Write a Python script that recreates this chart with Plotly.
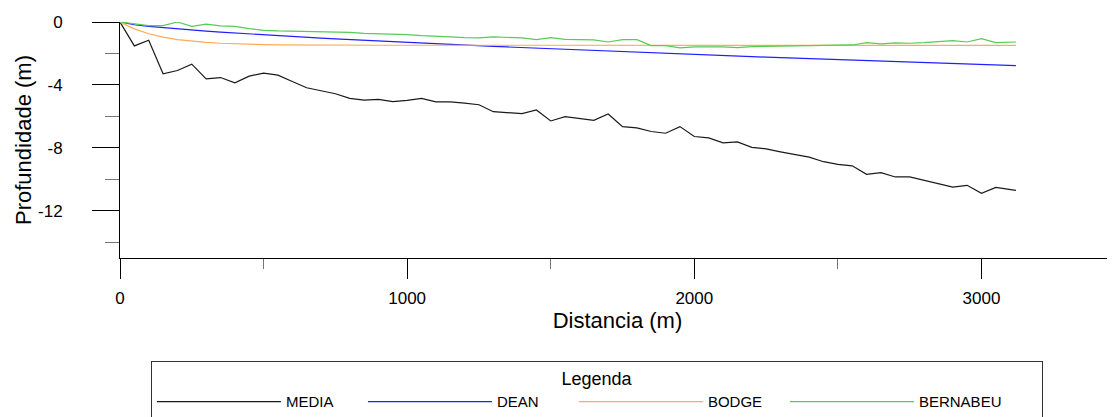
import plotly.graph_objects as go

distancia = [0, 50, 100, 150, 200, 250, 300, 350, 400, 450, 500, 550, 600, 650, 700, 750,
             800, 850, 900, 950, 1000, 1050, 1100, 1150, 1200, 1250, 1300, 1350, 1400, 1450,
             1500, 1550, 1600, 1650, 1700, 1750, 1800, 1850, 1900, 1950, 2000, 2050, 2100,
             2150, 2200, 2250, 2300, 2350, 2400, 2450, 2500, 2550, 2600, 2650, 2700, 2750,
             2800, 2850, 2900, 2950, 3000, 3050, 3120]

media = [0.0, -1.52, -1.16, -3.29, -3.08, -2.68, -3.61, -3.53, -3.86, -3.44, -3.25, -3.38,
         -3.78, -4.18, -4.37, -4.56, -4.85, -4.96, -4.92, -5.06, -4.98, -4.85, -5.08, -5.08,
         -5.15, -5.26, -5.70, -5.76, -5.82, -5.59, -6.29, -6.01, -6.14, -6.25, -5.85, -6.65,
         -6.73, -6.96, -7.07, -6.65, -7.28, -7.37, -7.68, -7.62, -7.97, -8.06, -8.25, -8.42,
         -8.59, -8.88, -9.05, -9.14, -9.68, -9.58, -9.85, -9.85, -10.06, -10.28, -10.49,
         -10.38, -10.89, -10.51, -10.70]

dean = [0.0, -0.176, -0.280, -0.367, -0.445, -0.516, -0.583, -0.646, -0.706, -0.763, -0.819,
        -0.873, -0.925, -0.976, -1.025, -1.073, -1.120, -1.166, -1.212, -1.256, -1.300,
        -1.343, -1.385, -1.427, -1.468, -1.508, -1.548, -1.587, -1.626, -1.665, -1.703,
        -1.741, -1.778, -1.815, -1.851, -1.888, -1.923, -1.959, -1.994, -2.029, -2.063,
        -2.098, -2.132, -2.165, -2.199, -2.232, -2.265, -2.297, -2.329, -2.361, -2.394,
        -2.425, -2.457, -2.488, -2.519, -2.550, -2.581, -2.611, -2.641, -2.671, -2.704,
        -2.734, -2.776]

bodge = [0.0, -0.437, -0.745, -0.962, -1.114, -1.223, -1.299, -1.352, -1.390, -1.417, -1.435,
         -1.448, -1.458, -1.464, -1.469, -1.472, -1.475, -1.476, -1.477, -1.478, -1.479,
         -1.48, -1.48, -1.48, -1.48, -1.48, -1.48, -1.48, -1.48, -1.48, -1.48, -1.48, -1.48,
         -1.48, -1.48, -1.48, -1.48, -1.48, -1.48, -1.48, -1.48, -1.48, -1.48, -1.48, -1.48,
         -1.48, -1.48, -1.48, -1.48, -1.48, -1.48, -1.48, -1.48, -1.48, -1.48, -1.48, -1.48,
         -1.48, -1.48, -1.48, -1.48, -1.48, -1.48]

bernabeu = [0.0, -0.13, -0.23, -0.23, 0.0, -0.28, -0.13, -0.25, -0.28, -0.42, -0.53, -0.57,
            -0.59, -0.59, -0.59, -0.61, -0.66, -0.72, -0.74, -0.76, -0.80, -0.87, -0.89,
            -0.95, -0.99, -1.01, -0.95, -0.99, -1.01, -1.12, -0.99, -1.10, -1.12, -1.14,
            -1.27, -1.12, -1.12, -1.50, -1.50, -1.65, -1.58, -1.58, -1.58, -1.63, -1.56,
            -1.55, -1.54, -1.52, -1.50, -1.48, -1.47, -1.46, -1.31, -1.39, -1.33, -1.35,
            -1.31, -1.23, -1.18, -1.27, -1.06, -1.31, -1.27]

series_names = ["MEDIA", "DEAN", "BODGE", "BERNABEU"]
series_values = [media, dean, bodge, bernabeu]
series_colors = ["#1a1a1a", "#2020ff", "#ffaa55", "#55cc55"]

x_ticks = [0, 1000, 2000, 3000]
y_ticks = [0, -4, -8, -12]

fig = go.Figure()
for i, (name, vals, col) in enumerate(zip(series_names, series_values, series_colors)):
    fig.add_trace(go.Scatter(x=distancia, y=vals, mode="lines", name=name,
                             line=dict(color=col, width=1.2),
                             legendwidth=(118 if i == len(series_names) - 1 else None)))

# the page body has an 8px margin, so the figure is drawn 8px in from the top-left
fig.update_layout(
    width=1107, height=409,
    margin=dict(l=112, r=0, t=14, b=159, autoexpand=False),
    plot_bgcolor="white", paper_bgcolor="white",
    font=dict(family="Arial", color="black"),
    legend=dict(
        orientation="h", x=0.0311, y=-0.436, xanchor="left", yanchor="top",
        bordercolor="#333333", borderwidth=1,
        title=dict(text="Legenda", side="top center", font=dict(size=18)),
        font=dict(size=15), itemwidth=124, entrywidth=72,
    ),
)
fig.update_xaxes(
    range=[0, 3465], showline=True, linecolor="black", linewidth=1,
    tickmode="array", tickvals=x_ticks, ticktext=[str(v) for v in x_ticks],
    ticks="outside", ticklen=20, tickcolor="black", tickwidth=1,
    tickfont=dict(size=17), showgrid=False, zeroline=False, ticklabelstandoff=5,
    minor=dict(dtick=500, tick0=0, ticks="outside", ticklen=10, tickcolor="#777777", showgrid=False),
    title=dict(text="Distancia (m)", font=dict(size=22), standoff=1),
)
fig.update_yaxes(
    range=[-15, 0], showline=True, linecolor="black", linewidth=1,
    tickmode="array", tickvals=y_ticks, ticktext=[str(v) for v in y_ticks],
    ticks="outside", ticklen=27, tickcolor="black", tickwidth=1,
    tickfont=dict(size=17), showgrid=False, zeroline=False, ticklabelstandoff=26,
    minor=dict(dtick=2, tick0=0, ticks="outside", ticklen=14, tickcolor="#777777", showgrid=False),
    title=dict(text="Profundidade (m)", font=dict(size=22), standoff=0),
)

fig.write_html("out.html")
